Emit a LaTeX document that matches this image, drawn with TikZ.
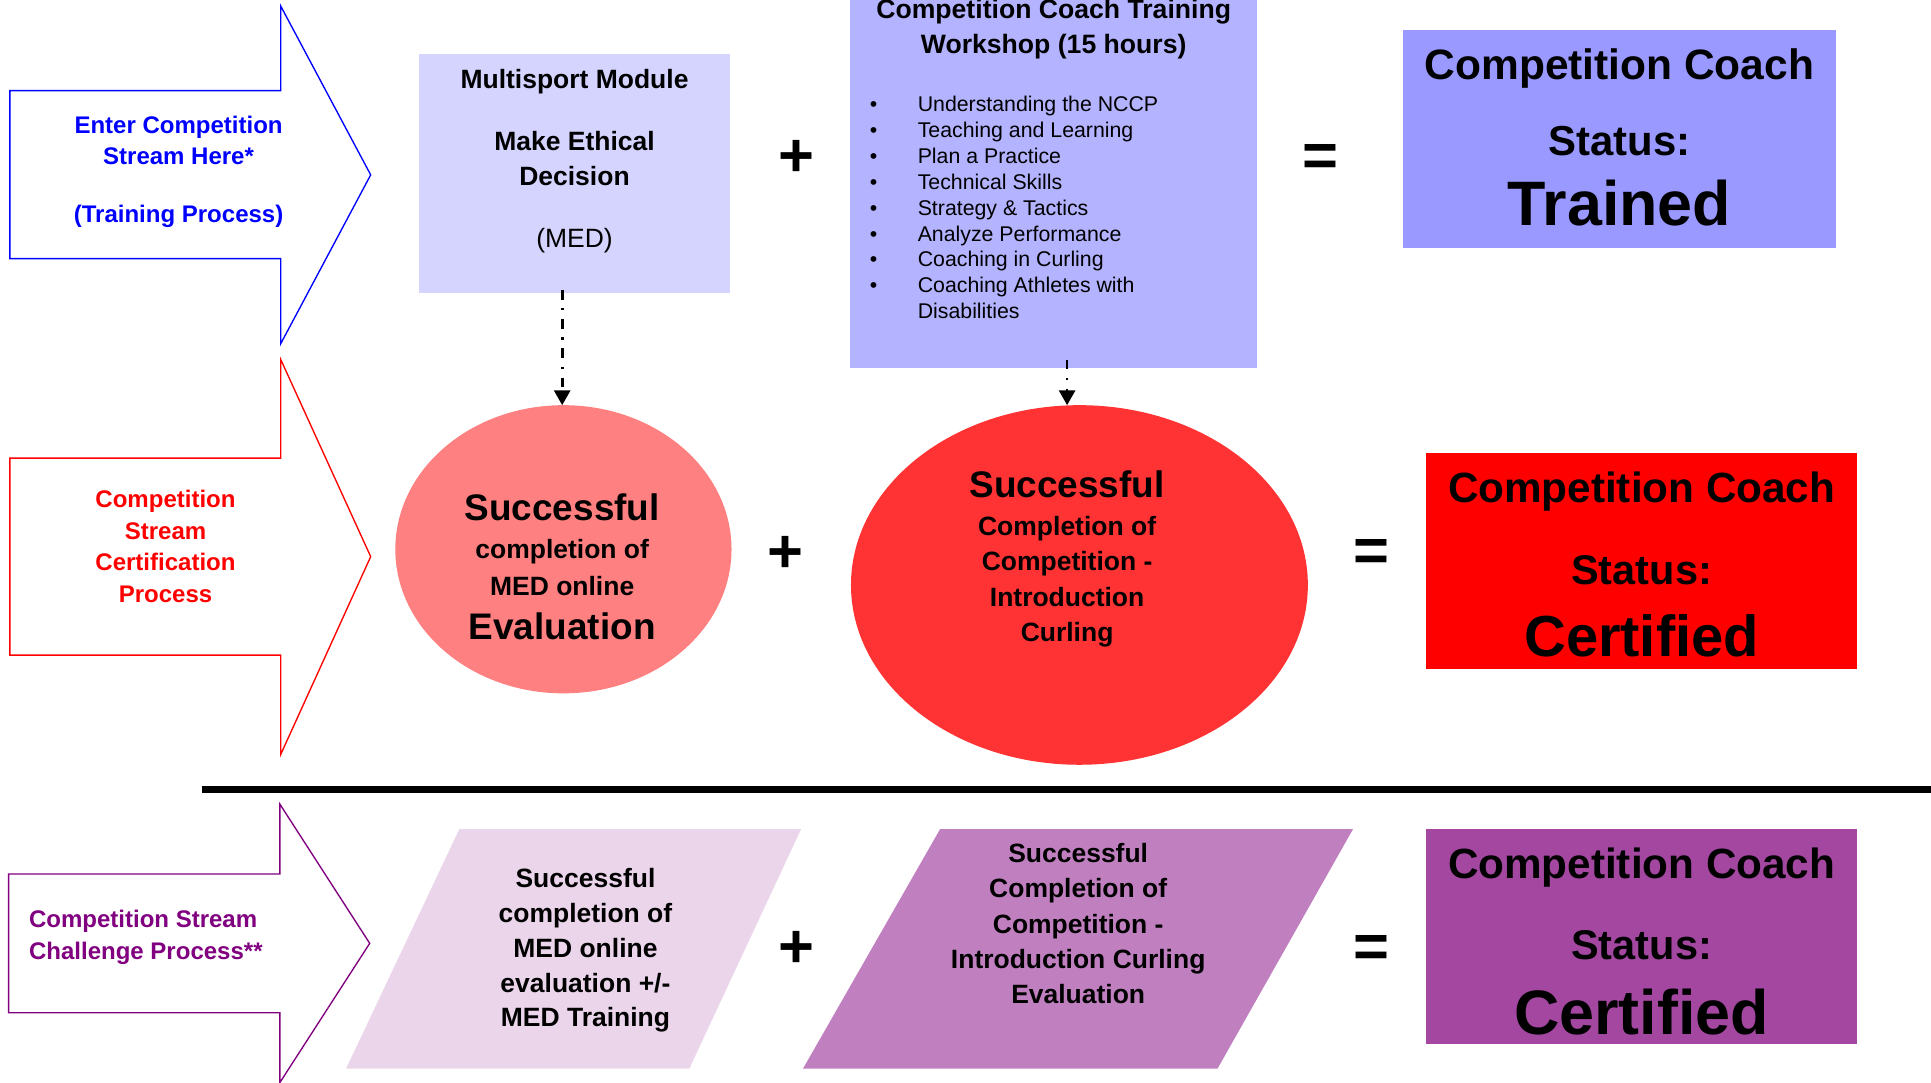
\documentclass[tikz,border=0pt]{standalone}
\usepackage{fontspec}
\setmainfont{Liberation Sans}
\usetikzlibrary{arrows.meta,shapes.geometric}
\definecolor{arrowblue}{RGB}{0,0,255}
\definecolor{arrowred}{RGB}{255,0,0}
\definecolor{arrowpurple}{RGB}{128,0,128}
\definecolor{medfill}{RGB}{212,212,255}
\definecolor{wsfill}{RGB}{179,179,255}
\definecolor{trainedfill}{RGB}{153,153,255}
\definecolor{ellonefill}{RGB}{255,128,128}
\definecolor{elltwofill}{RGB}{255,51,51}
\definecolor{certredfill}{RGB}{255,0,0}
\definecolor{paraonefill}{RGB}{234,213,234}
\definecolor{paratwofill}{RGB}{192,128,192}
\definecolor{certpurplefill}{RGB}{163,71,160}
\begin{document}
\begin{tikzpicture}[x=1pt,y=-1pt,
  every node/.style={inner sep=0pt, outer sep=0pt},
  streamarrow/.style={line width=1.1pt, line join=miter, fill=white},
  panel/.style={anchor=north west},
  txt/.style={align=center},
  conn/.style={line width=2.2pt, dash pattern=on 8pt off 7pt on 1.8pt off 7pt, -{Triangle[length=12pt,width=13pt]}},
  opsign/.style={anchor=base, font=\fontsize{50}{50}\selectfont\bfseries},
  bigline/.style={anchor=base, font=\fontsize{34.3}{40}\selectfont\bfseries},
  midline/.style={anchor=base, font=\fontsize{33.7}{40}\selectfont\bfseries},
  succ/.style={anchor=base, font=\fontsize{30}{34}\selectfont\bfseries},
  bodytxt/.style={txt, font=\fontsize{21.5}{28.6}\selectfont\bfseries},
  streamtxt/.style={font=\fontsize{19.5}{25.6}\selectfont\bfseries},
]
\useasboundingbox (0,0) rectangle (1568,878.6);

% ---------------- row 1 : training ----------------
\draw[streamarrow, draw=arrowblue] (8,73.6) -- (228,73.6) -- (228,5) -- (301,142) -- (228,279) -- (228,210) -- (8,210) -- cycle;
\node[txt, streamtxt, text=arrowblue] (enter) at (145,139.5) {Enter Competition\\Stream Here*\\[21.8pt](Training Process)};

\node[panel, fill=medfill, minimum width=253pt, minimum height=194.4pt] (med) at (340,43.8) {};
\node[txt, font=\fontsize{21.5}{28.7}\selectfont\bfseries] (medtext) at (466.5,131) {Multisport Module\\[21.3pt]Make Ethical\\Decision\\[21.3pt]{\mdseries (MED)}};

\node[opsign] (plusA) at (647,143) {+};

\node[panel, fill=wsfill, minimum width=331pt, minimum height=310pt] (ws) at (690,-11) {};
\node[txt, font=\fontsize{21.6}{28}\selectfont\bfseries] (wstitle) at (855.6,23.5) {Competition Coach Training\\Workshop (15 hours)};
\node[anchor=west, font=\fontsize{17.3}{21}\selectfont] (wslist) at (706.3,170.5) {\begin{tabular}{@{}l@{\hspace{32.9pt}}l@{}}
\textbullet & Understanding the NCCP\\
\textbullet & Teaching and Learning\\
\textbullet & Plan a Practice\\
\textbullet & Technical Skills\\
\textbullet & Strategy \& Tactics\\
\textbullet & Analyze Performance\\
\textbullet & Coaching in Curling\\
\textbullet & Coaching Athletes with\\
 & Disabilities
\end{tabular}};

\node[opsign] (eqA) at (1072,143) {=};

\node[panel, fill=trainedfill, minimum width=352pt, minimum height=176.6pt] (trained) at (1139,24.4) {};
\node[bigline, font=\fontsize{34.5}{40}\selectfont\bfseries] (trA) at (1315,64.5) {Competition Coach};
\node[midline, font=\fontsize{34}{40}\selectfont\bfseries] (trB) at (1315,126) {Status:};
\node[anchor=base, font=\fontsize{51}{60}\selectfont\bfseries] (trC) at (1315,183) {Trained};

% ---------------- row 2 : certification ----------------
\draw[streamarrow, draw=arrowred] (8,372) -- (228,372) -- (228,292) -- (301,452) -- (228,612.5) -- (228,532) -- (8,532) -- cycle;
\node[txt, streamtxt, text=arrowred] (cert) at (134.4,443.6) {Competition\\Stream\\Certification\\Process};

\node[ellipse, fill=ellonefill, minimum width=273pt, minimum height=234pt] (ellA) at (457.5,446) {};
\node[succ] (ellAa) at (456.5,422.5) {Successful};
\node[txt, font=\fontsize{21.5}{30}\selectfont\bfseries] (ellAb) at (456.5,460.8) {completion of\\MED online};
\node[succ] (ellAc) at (456.5,519) {Evaluation};

\node[opsign] (plusB) at (637.6,464.6) {+};

\node[ellipse, fill=elltwofill, minimum width=371pt, minimum height=292pt] (ellB) at (876.5,475) {};
\node[succ] (ellBa) at (866.5,404) {Successful};
\node[bodytxt] (ellBb) at (866.5,472.3) {Completion of\\Competition -\\Introduction\\Curling};

\node[opsign] (eqB) at (1114,464.4) {=};

\node[panel, fill=certredfill, minimum width=350pt, minimum height=175pt] (certred) at (1158,368) {};
\node[bigline] (crA) at (1333,408.4) {Competition Coach};
\node[midline] (crB) at (1333,475) {Status:};
\node[anchor=base, font=\fontsize{47}{56}\selectfont\bfseries] (crC) at (1333,533) {Certified};

% connectors
\path (med.south -| ellA.north) coordinate (medfoot);
\draw[conn] ([xshift=-1pt,yshift=3pt]medfoot) -- ([xshift=-1pt]ellA.north);
\draw[conn] ([xshift=11pt,yshift=7pt]ws.south) -- ([xshift=-10pt]ellB.north);

% separator
\draw[line width=5.5pt] (164.4,641) -- (1575,641);

% ---------------- row 3 : challenge ----------------
\draw[streamarrow, draw=arrowpurple] (7,709.7) -- (227.3,709.7) -- (227.3,653) -- (300.2,766) -- (227.3,879) -- (227.3,822.3) -- (7,822.3) -- cycle;
\node[anchor=west, align=left, streamtxt, font=\fontsize{19.5}{26.2}\selectfont\bfseries, text=arrowpurple] (chal) at (23.6,761.4) {Competition Stream\\Challenge Process**};

\fill[paraonefill] (373,673.2) -- (650.5,673.2) -- (559.7,867.8) -- (281,867.8) -- cycle;
\node[txt, font=\fontsize{21.5}{28.4}\selectfont\bfseries] (paraA) at (475.4,771.6) {Successful\\completion of\\MED online\\evaluation +/-\\MED Training};

\node[opsign] (plusC) at (647,785.4) {+};

\fill[paratwofill] (763.4,673.2) -- (1098.7,673.2) -- (988.6,867.8) -- (652,867.8) -- cycle;
\node[bodytxt] (paraB) at (875.5,750) {Successful\\Completion of\\Competition -\\Introduction Curling\\Evaluation};

\node[opsign] (eqC) at (1114,786) {=};

\node[panel, fill=certpurplefill, minimum width=350pt, minimum height=174.4pt] (certpurple) at (1158,673) {};
\node[bigline] (cpA) at (1333,713) {Competition Coach};
\node[midline] (cpB) at (1333,779.4) {Status:};
\node[anchor=base, font=\fontsize{51}{60}\selectfont\bfseries] (cpC) at (1333,840) {Certified};
\end{tikzpicture}
\end{document}
